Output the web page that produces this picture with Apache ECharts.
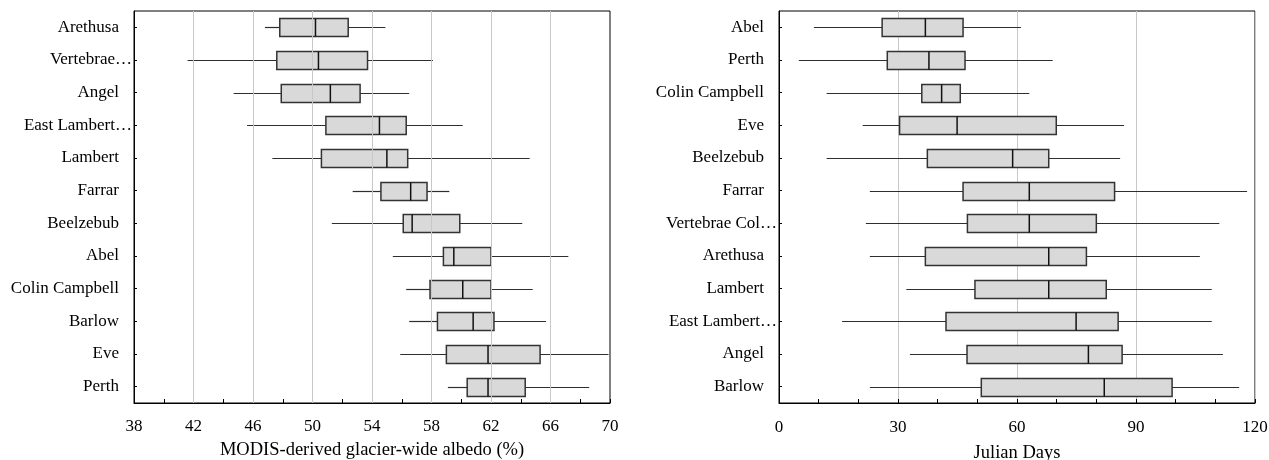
<!DOCTYPE html>
<html>
<head>
<meta charset="utf-8">
<script src="https://cdn.jsdelivr.net/npm/echarts@6/dist/echarts.min.js"></script>
<style>
  html, body { margin: 0; padding: 0; background: #fff; }
  #chart { width: 1269px; height: 460px; }
</style>
</head>
<body>
<div id="chart"></div>
<script>
// Glacier-wide albedo (%) per glacier, listed top to bottom
const albedoGlaciers = ['Arethusa', 'Vertebrae…', 'Angel', 'East Lambert…', 'Lambert', 'Farrar',
  'Beelzebub', 'Abel', 'Colin Campbell', 'Barlow', 'Eve', 'Perth'];
const albedoMin    = [46.8, 41.6, 44.7, 45.6, 47.3, 52.7, 51.3, 55.4, 56.3, 56.5, 55.9, 59.1];
const albedoQ1     = [47.8, 47.6, 47.9, 50.9, 50.6, 54.6, 56.1, 58.8, 57.9, 58.4, 59.0, 60.4];
const albedoMedian = [50.2, 50.4, 51.2, 54.5, 55.0, 56.6, 56.7, 59.5, 60.1, 60.8, 61.8, 61.8];
const albedoQ3     = [52.4, 53.7, 53.2, 56.3, 56.4, 57.7, 59.9, 62.0, 62.0, 62.2, 65.3, 64.3];
const albedoMax    = [54.9, 58.1, 56.5, 60.1, 64.6, 59.2, 64.1, 67.2, 64.8, 65.7, 69.9, 68.6];
const albedoTicks  = [38, 42, 46, 50, 54, 58, 62, 66, 70];
const albedoGrid   = [42, 46, 50, 54, 58, 62, 66];

// Timing in Julian days per glacier, listed top to bottom
const dayGlaciers = ['Abel', 'Perth', 'Colin Campbell', 'Eve', 'Beelzebub', 'Farrar', 'Vertebrae Col…',
  'Arethusa', 'Lambert', 'East Lambert…', 'Angel', 'Barlow'];
const dayMin    = [8.8, 5.0, 12.0, 21.1, 12.0, 22.9, 21.9, 22.9, 32.1, 15.9, 33.0, 22.9];
const dayQ1     = [26.0, 27.3, 36.0, 30.4, 37.4, 46.4, 47.5, 36.9, 49.4, 42.1, 47.4, 51.0];
const dayMedian = [36.9, 37.8, 41.0, 44.9, 58.9, 63.1, 63.1, 68.0, 68.0, 74.9, 78.0, 82.0];
const dayQ3     = [46.4, 46.9, 45.7, 69.9, 68.0, 84.6, 80.0, 77.5, 82.5, 85.5, 86.5, 99.1];
const dayMax    = [61.0, 69.0, 63.1, 87.0, 86.0, 118.0, 111.0, 106.1, 109.1, 109.1, 111.9, 116.0];
const dayTicks  = [0, 30, 60, 90, 120];

const FONT = 'Liberation Serif';

function rows(names, mins, q1s, meds, q3s, maxs) {
  return names.map((_, i) => [i, mins[i], q1s[i], meds[i], q3s[i], maxs[i]]);
}

// Box with whiskers (no end caps), positioned through the axes
function boxItem(params, api) {
  const row = api.value(0);
  const at = v => api.coord([v, row]);
  const pMin = at(api.value(1)), pQ1 = at(api.value(2)), pMed = at(api.value(3)),
        pQ3 = at(api.value(4)), pMax = at(api.value(5));
  const y = Math.round(pMin[1]) + 0.5;
  const h = 18;
  const whisker = { stroke: '#2e2e2e', lineWidth: 1.2 };
  return {
    type: 'group',
    children: [
      { type: 'line', shape: { x1: pMin[0], y1: y, x2: pQ1[0], y2: y }, style: whisker },
      { type: 'line', shape: { x1: pQ3[0], y1: y, x2: pMax[0], y2: y }, style: whisker },
      { type: 'rect', shape: { x: pQ1[0], y: y - h / 2, width: pQ3[0] - pQ1[0], height: h },
        style: { fill: '#d9d9d9', stroke: '#333', lineWidth: 1.5 } },
      { type: 'line', shape: { x1: pMed[0], y1: y - h / 2, x2: pMed[0], y2: y + h / 2 },
        style: { stroke: '#111', lineWidth: 1.5 } }
    ]
  };
}

function categoryAxis(gridIndex, names) {
  return {
    type: 'category', gridIndex, data: names, inverse: true,
    axisLine: { show: true, lineStyle: { color: '#000', width: 1 } },
    axisTick: { show: true, inside: true, alignWithLabel: true, length: 3, lineStyle: { color: '#000' } },
    splitLine: { show: false },
    axisLabel: {
      margin: 2,
      formatter: v => v.endsWith('…') ? '{a|' + v + '}' : '{a|' + v + '}{gap| }',
      rich: {
        a: { fontFamily: FONT, fontSize: 17, color: '#000' },
        gap: { width: 13, fontFamily: FONT, fontSize: 17 }
      }
    }
  };
}

const axisFont = { fontFamily: FONT, fontSize: 17, color: '#000' };

const option = {
  animation: false,
  backgroundColor: '#fff',
  grid: [
    { left: 134, right: 659, top: 11, bottom: 57, outerBoundsMode: 'none', containLabel: false,
      show: true, borderColor: '#000', borderWidth: 1 },
    { left: 779, right: 14, top: 11, bottom: 57, outerBoundsMode: 'none', containLabel: false,
      show: true, borderColor: '#000', borderWidth: 1 }
  ],
  xAxis: [
    {
      type: 'value', gridIndex: 0, min: 38, max: 70, interval: 2,
      name: 'MODIS-derived glacier-wide albedo (%)', nameLocation: 'middle', nameGap: 38,
      nameTextStyle: { fontFamily: FONT, fontSize: 18.5, color: '#000' },
      axisLine: { show: true, lineStyle: { color: '#000', width: 1 } },
      axisTick: { show: true, inside: true, length: 4, lineStyle: { color: '#000' } },
      splitLine: { show: false },
      axisLabel: Object.assign({ margin: 15, formatter: v => albedoTicks.includes(v) ? String(v) : '' }, axisFont)
    },
    {
      type: 'value', gridIndex: 1, min: 0, max: 120, interval: 30,
      name: 'Julian Days', nameLocation: 'middle', nameGap: 41,
      nameTextStyle: { fontFamily: FONT, fontSize: 18.5, color: '#000' },
      axisLine: { show: true, lineStyle: { color: '#000', width: 1 } },
      axisTick: { show: true, inside: true, length: 4, lineStyle: { color: '#000' } },
      minorTick: { show: true, splitNumber: 3, length: 4, lineStyle: { color: '#000' } },
      splitLine: { show: true, lineStyle: { color: '#c8c8c8', width: 1 } },
      axisLabel: Object.assign({ margin: 16, formatter: v => dayTicks.includes(v) ? String(v) : '' }, axisFont)
    }
  ],
  yAxis: [categoryAxis(0, albedoGlaciers), categoryAxis(1, dayGlaciers)],
  series: [
    {
      type: 'scatter', xAxisIndex: 0, yAxisIndex: 0, data: [], silent: true, z: 1,
      markLine: {
        silent: true, symbol: ['none', 'none'], label: { show: false },
        lineStyle: { color: '#c8c8c8', width: 1, type: 'solid' },
        emphasis: { disabled: true },
        data: albedoGrid.map(v => ({ xAxis: v }))
      }
    },
    {
      type: 'custom', xAxisIndex: 0, yAxisIndex: 0, z: 3,
      renderItem: boxItem,
      encode: { x: [1, 2, 3, 4, 5], y: 0 },
      data: rows(albedoGlaciers, albedoMin, albedoQ1, albedoMedian, albedoQ3, albedoMax)
    },
    {
      type: 'custom', xAxisIndex: 1, yAxisIndex: 1, z: 3,
      renderItem: boxItem,
      encode: { x: [1, 2, 3, 4, 5], y: 0 },
      data: rows(dayGlaciers, dayMin, dayQ1, dayMedian, dayQ3, dayMax)
    }
  ]
};

const chart = echarts.init(document.getElementById('chart'), null, { renderer: 'canvas' });
chart.setOption(option);
</script>
</body>
</html>
